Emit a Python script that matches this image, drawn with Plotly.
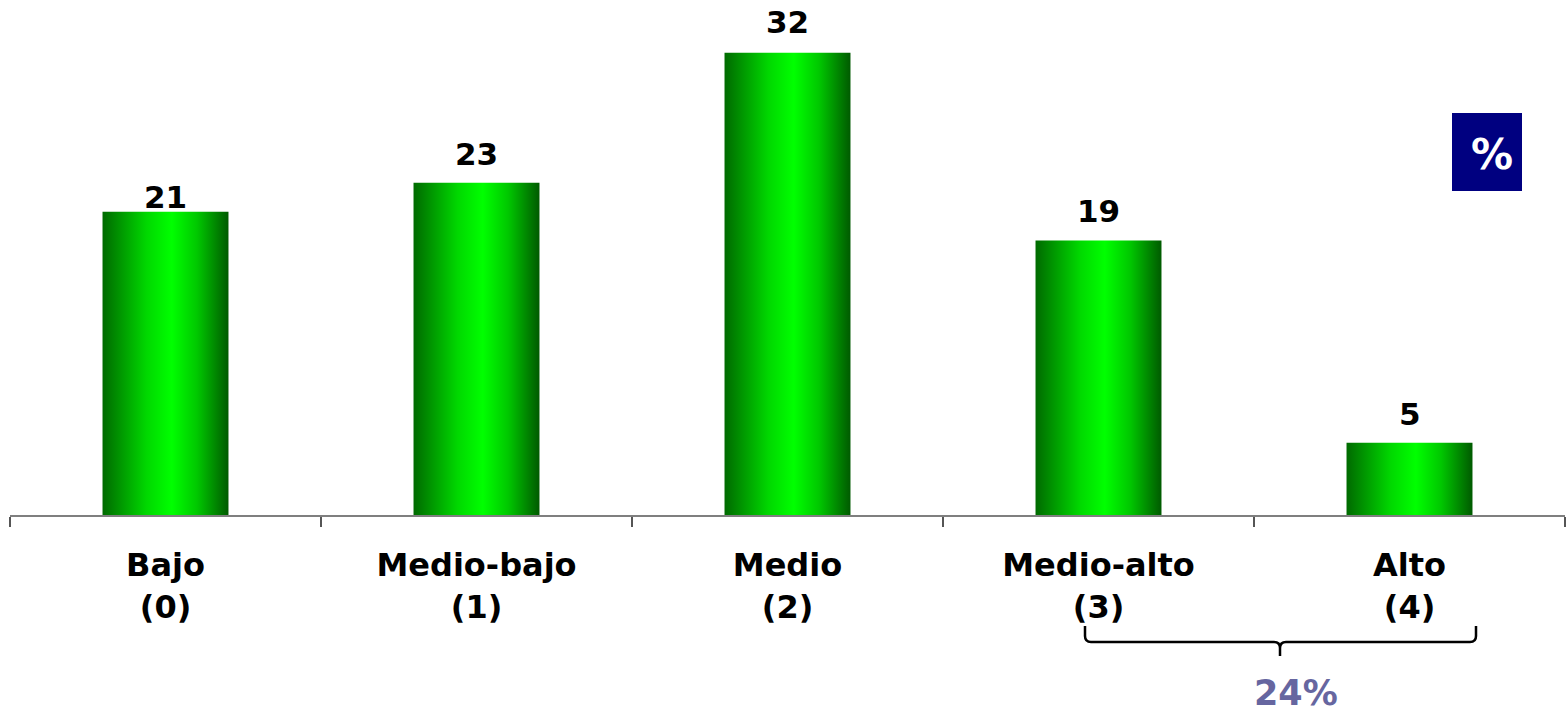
import plotly.graph_objects as go

# Distribution by level (percent)
categories = ["Bajo<br>(0)", "Medio-bajo<br>(1)", "Medio<br>(2)", "Medio-alto<br>(3)", "Alto<br>(4)"]
values = [21, 23, 32, 19, 5]
bracket_label = "24%"
unit_label = "%"

BAR_W = 0.405
FONT = "DejaVu Sans"
W, H = 1567, 712
M_L, M_R, M_T, M_B = 10, 2, 0, 197
PLOT_W = W - M_L - M_R
PLOT_H = H - M_T - M_B
# vertical offset (px) of each value label above its bar
LABEL_SHIFT = [15, 29, 31, 30, 29]


def px_to_paper(px, py):
    return (px - M_L) / PLOT_W, (PLOT_H + M_T - py) / PLOT_H


fig = go.Figure()

# Bars drawn as filled polygons so they can carry a horizontal gradient
for i, v in enumerate(values):
    x0, x1 = i - BAR_W / 2, i + BAR_W / 2
    fig.add_trace(go.Scatter(
        x=[x0, x0, x1, x1, x0],
        y=[0, v, v, 0, 0],
        mode="lines",
        fill="toself",
        line=dict(width=0, color="rgba(0,0,0,0)"),
        fillgradient=dict(
            type="horizontal",
            colorscale=[[0, "#006a00"], [0.35, "#00d800"], [0.55, "#00ff00"],
                        [0.75, "#00c800"], [1, "#005a00"]],
        ),
        hoverinfo="skip",
        showlegend=False,
    ))

# Value labels above each bar
for i, v in enumerate(values):
    fig.add_annotation(x=i, y=v, xref="x", yref="y", text=f"<b>{v}</b>",
                       showarrow=False, xanchor="center", yanchor="middle",
                       yshift=LABEL_SHIFT[i],
                       font=dict(family=FONT, size=31, color="black"))

fig.update_xaxes(
    range=[-0.5, len(values) - 0.5],
    tickmode="array",
    tickvals=list(range(len(values))),
    ticktext=[f"<b>{c}</b>" for c in categories],
    ticks="",
    ticklabelstandoff=21,
    tickfont=dict(family=FONT, size=32, color="black"),
    showline=True,
    linecolor="#7f7f7f",
    linewidth=2,
    showgrid=False,
    zeroline=False,
    minor=dict(ticks="outside", tick0=-0.5, dtick=1, ticklen=10,
               tickwidth=2, tickcolor="#555555", showgrid=False),
)
fig.update_yaxes(range=[0, 35.66], visible=False, showgrid=False, zeroline=False)

# Brace grouping the two highest levels
lx, ty = px_to_paper(1085, 626)
rx, _ = px_to_paper(1476, 626)
mx, hy = px_to_paper(1280, 642)
_, tipy = px_to_paper(1280, 656)
r = 6 / PLOT_W
ry = 6 / PLOT_H
path = (
    f"M {lx},{ty} L {lx},{hy + ry} Q {lx},{hy} {lx + r},{hy} "
    f"L {mx - r},{hy} Q {mx},{hy} {mx},{hy - ry} L {mx},{tipy} "
    f"M {mx},{hy - ry} Q {mx},{hy} {mx + r},{hy} "
    f"L {rx - r},{hy} Q {rx},{hy} {rx},{hy + ry} L {rx},{ty}"
)
fig.add_shape(type="path", path=path, xref="paper", yref="paper",
              line=dict(color="black", width=2.5))

bx, by = px_to_paper(1296, 693)
fig.add_annotation(text=f"<b>{bracket_label}</b>", x=bx, y=by, xref="paper", yref="paper",
                   showarrow=False, xanchor="center", yanchor="middle",
                   font=dict(family=FONT, size=35, color="#6666a0"))

# Unit badge
bx0, by0 = px_to_paper(1452, 113)
bx1, by1 = px_to_paper(1522, 191)
fig.add_shape(type="rect", x0=bx0, x1=bx1, y0=by1, y1=by0, xref="paper", yref="paper",
              fillcolor="#000080", line=dict(width=0))
ux, uy = px_to_paper(1492, 154)
fig.add_annotation(text=f"<b>{unit_label}</b>", x=ux, y=uy, xref="paper", yref="paper",
                   showarrow=False, xanchor="center", yanchor="middle",
                   font=dict(family=FONT, size=42, color="white"))

fig.update_layout(
    width=W, height=H,
    margin=dict(l=M_L, r=M_R, t=M_T, b=M_B, pad=0),
    paper_bgcolor="white",
    plot_bgcolor="white",
    showlegend=False,
)

fig.write_html("out.html", config={"displayModeBar": False})
